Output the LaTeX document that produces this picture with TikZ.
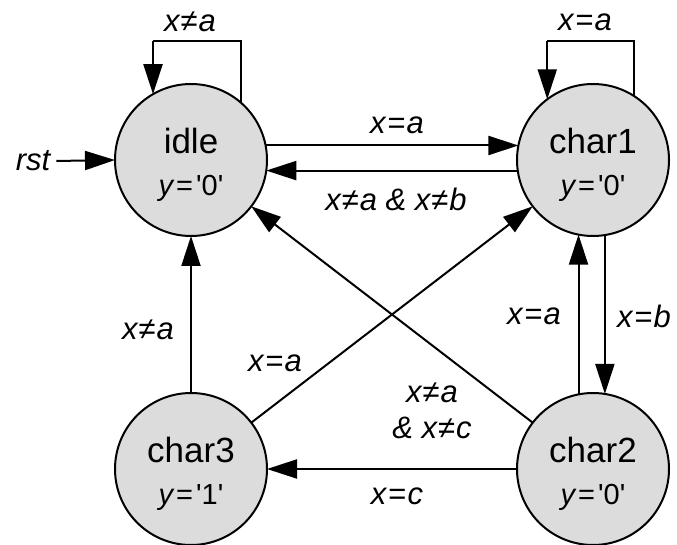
\documentclass[tikz,border=0pt]{standalone}
\usepackage{fontspec}
\setmainfont{Liberation Sans}
\usetikzlibrary{arrows.meta}
\definecolor{stategray}{RGB}{220,220,220}
\newcommand{\outval}[1]{{\fontsize{29}{30}\selectfont\itshape y\upshape\kern3pt=\kern3pt\textquotesingle#1\textquotesingle}}
\newcommand{\eqs}{\kern1.5pt=\kern1.5pt}
\newcommand{\nes}{\kern1pt≠\kern1pt}
\newcommand{\topstrut}{\rule{0pt}{35pt}}
\begin{document}
\begin{tikzpicture}[x=1pt,y=-1pt,
  state/.style={circle, draw, line width=2pt, fill=stategray, minimum size=152pt,
    inner sep=0pt, outer sep=0pt, align=center, font=\fontsize{35}{42}\selectfont},
  trans/.style={line width=2pt, -{Triangle[length=30pt,width=19pt]}},
  wire/.style={line width=2pt},
  lbl/.style={font=\fontsize{31}{36}\selectfont\itshape, inner sep=0pt}
]
\useasboundingbox (0,0) rectangle (677,545);

% states
\node[state] (idle)  at (191,160) {\topstrut idle\\\outval{0}};
\node[state] (char1) at (593,160) {\topstrut char1\\\outval{0}};
\node[state] (char3) at (191,469) {\topstrut char3\\\outval{1}};
\node[state] (char2) at (593,469) {\topstrut char2\\\outval{0}};

% height of the self-loop tops
\coordinate (looptop) at (0,41);

% reset input
\node[lbl, inner xsep=6pt] (rst) at (33,161) {rst};
\draw[trans] (rst.east) -- (idle.west);

% self loops
\draw[wire] (idle.49) -- (idle.49 |- looptop) -- (idle.120 |- looptop);
\draw[trans] (idle.120 |- looptop) -- (idle.120);
\node[lbl] (l-idle) at (190,22) {x\nes a};

\draw[wire] (char1.57) -- (char1.57 |- looptop) -- (char1.127 |- looptop);
\draw[trans] (char1.127 |- looptop) -- (char1.127);
\node[lbl] (l-c1) at (585,22) {x\eqs a};

% idle <-> char1
\draw[trans] (idle.11) -- (char1.169);
\node[lbl] (l-ic) at (397,125) {x\eqs a};
\draw[trans] (char1.188) -- (idle.-8);
\node[lbl] (l-ci) at (396,199) {x\nes a \& x\nes b};

% char3 -> idle
\draw[trans] (char3.north) -- (idle.south);
\node[lbl] (l-3i) at (148,330) {x\nes a};

% char3 -> char1
\draw[trans] (char3) -- (char1);
\node[lbl] (l-31) at (275,363) {x\eqs a};

% char2 -> idle
\draw[trans] (char2) -- (idle);
\node[lbl] (l-2ia) at (432,393) {x\nes a};
\node[lbl] (l-2ib) at (432,428) {\& x\nes c};

% char1 <-> char2
\draw[trans] (char2.101) -- (char1.259);
\node[lbl] (l-21) at (534,316) {x\eqs a};
\draw[trans] (char1.279) -- (char2.81);
\node[lbl] (l-12) at (644,316) {x\eqs b};

% char2 -> char3
\draw[trans] (char2.west) -- (char3.east);
\node[lbl] (l-23) at (397,496) {x\eqs c};
\end{tikzpicture}
\end{document}
